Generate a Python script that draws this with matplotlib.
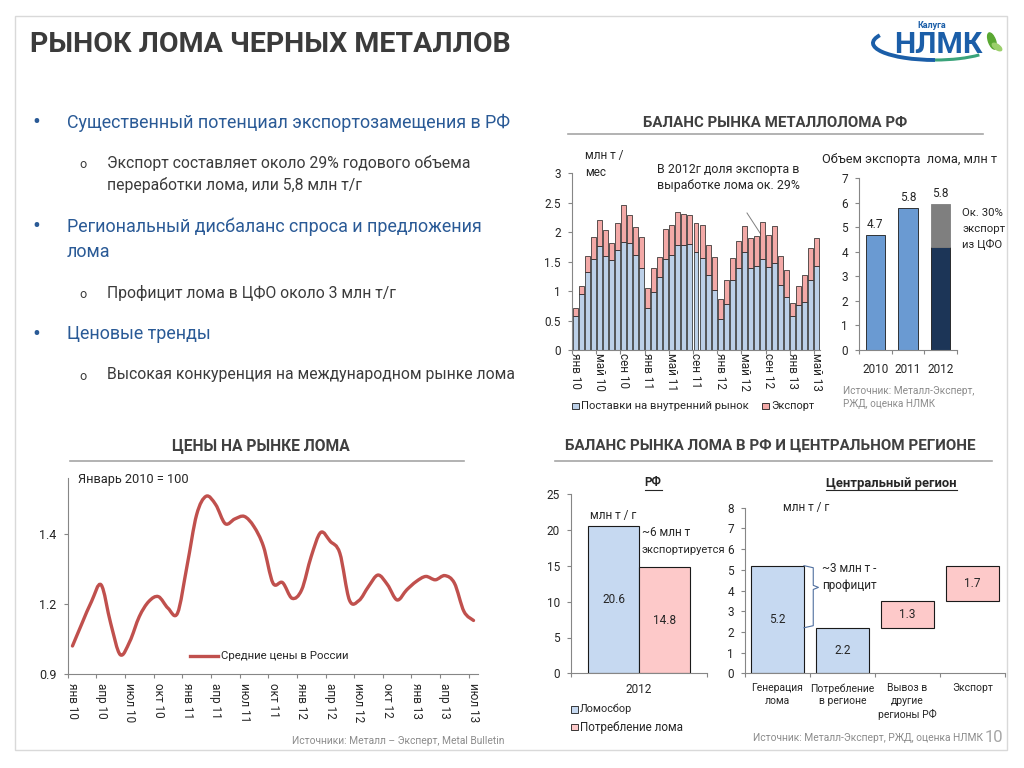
import matplotlib
matplotlib.use('Agg')
import matplotlib.pyplot as plt
from matplotlib.patches import Rectangle, Arc, Ellipse, PathPatch
from matplotlib.path import Path
import numpy as np

# ---------------- DATA ----------------
# Monthly scrap balance (Jan 2010 .. May 2013), mln t / month
month_labels_a = ['янв 10', 'май 10', 'сен 10', 'янв 11', 'май 11', 'сен 11',
                  'янв 12', 'май 12', 'сен 12', 'янв 13', 'май 13']
domestic = [0.58, 0.95, 1.32, 1.55, 1.77, 1.60, 1.52, 1.69, 1.84, 1.81, 1.61, 1.39,
            0.72, 0.98, 1.24, 1.55, 1.62, 1.79, 1.78, 1.80, 1.66, 1.56, 1.28, 1.02,
            0.53, 0.78, 1.18, 1.39, 1.66, 1.39, 1.42, 1.55, 1.41, 1.48, 1.10, 0.90,
            0.57, 0.76, 0.82, 1.19, 1.43]
export = [0.13, 0.14, 0.28, 0.37, 0.43, 0.44, 0.29, 0.47, 0.63, 0.49, 0.48, 0.53,
          0.33, 0.42, 0.34, 0.50, 0.51, 0.55, 0.53, 0.50, 0.50, 0.57, 0.51, 0.56,
          0.34, 0.41, 0.39, 0.46, 0.44, 0.52, 0.52, 0.63, 0.55, 0.62, 0.49, 0.46,
          0.22, 0.33, 0.45, 0.55, 0.47]
series_a = ['Поставки на внутренний рынок', 'Экспорт']

# Annual export, mln t
years = ['2010', '2011', '2012']
export_year = [4.7, 5.8, 5.8]
export_2012_cfo_rest = 4.2     # dark part of 2012 bar
export_2012_cfo = 1.75         # grey part (approx. 30% from Central FD)

# Price index (Jan 2010 = 100), monthly Jan 2010 .. Jul 2013
price_labels = ['янв 10', 'апр 10', 'июл 10', 'окт 10', 'янв 11', 'апр 11', 'июл 11',
                'окт 11', 'янв 12', 'апр 12', 'июл 12', 'окт 12', 'янв 13', 'апр 13',
                'июл 13']
price = [1.001, 1.082, 1.160, 1.219, 1.082, 0.970, 1.017, 1.106, 1.160, 1.177, 1.136,
         1.118, 1.287, 1.469, 1.535, 1.505, 1.437, 1.454, 1.463, 1.427, 1.356, 1.225,
         1.227, 1.171, 1.201, 1.320, 1.406, 1.374, 1.332, 1.165, 1.163, 1.213, 1.254,
         1.219, 1.165, 1.201, 1.231, 1.249, 1.237, 1.252, 1.225, 1.124, 1.092]
price_ticks = [0.9, 1.15, 1.4]
price_tick_labels = ['0.9', '1.2', '1.4']
price_series = 'Средние цены в России'

# RF balance 2012, mln t / year
rf_category = '2012'
rf_series = ['Ломосбор', 'Потребление лома']
rf_values = [20.6, 14.8]

# Central region balance, mln t / year
ce_categories = ['Генерация\nлома', 'Потребление\nв регионе', 'Вывоз в\nдругие\nрегионы РФ', 'Экспорт']
ce_values = [5.2, 2.2, 1.3, 1.7]
ce_bottoms = [0.0, 0.0, 2.2, 3.5]

# ---------------- STYLE ----------------
W, H = 1024, 768
FONT = ['Roboto', 'DejaVu Sans']
plt.rcParams['font.family'] = FONT
TXT = '#262626'
AXC = '#868686'
BLUE_TXT = '#2a5a96'
SRC = '#8c8c8c'

fig = plt.figure(figsize=(W / 100, H / 100), dpi=100)
bg = fig.add_axes([0, 0, 1, 1], zorder=0)
bg.set_xlim(0, W)
bg.set_ylim(H, 0)
bg.axis('off')
R = fig.canvas.get_renderer()


def txt(x, y, s, size, ha='left', va='center', color=TXT, weight='normal', **kw):
    return bg.text(x, y, s, fontsize=size, ha=ha, va=va, color=color,
                   fontweight=weight, **kw)


def fitsize(s, width, weight='normal', size0=10):
    t = bg.text(0, 0, s, fontsize=size0, fontweight=weight)
    w = t.get_window_extent(renderer=R).width
    t.remove()
    return size0 * width / w


def fit(x, y, s, width, ha='left', va='center', color=TXT, weight='normal', **kw):
    return txt(x, y, s, fitsize(s, width, weight), ha, va, color, weight, **kw)


def axpx(x0, y0, x1, y1):
    ax = fig.add_axes([x0 / W, 1 - y1 / H, (x1 - x0) / W, (y1 - y0) / H], zorder=2)
    ax.patch.set_alpha(0)
    for s in ['top', 'right']:
        ax.spines[s].set_visible(False)
    for s in ['left', 'bottom']:
        ax.spines[s].set_color(AXC)
        ax.spines[s].set_linewidth(0.8)
    ax.tick_params(axis='both', which='both', colors=AXC, labelcolor=TXT,
                   labelsize=8.5, direction='out', length=3, width=0.8, pad=5)
    return ax


def cat_axis(ax, n, pos, labels, step=1, rot=0, size=8.5, pad=5, **kw):
    ax.set_xticks(np.arange(-0.5, n, step))
    ax.set_xticklabels([])
    ax.set_xticks(pos, minor=True)
    ax.set_xticklabels(labels, minor=True, rotation=rot, fontsize=size, **kw)
    ax.tick_params(axis='x', which='minor', length=0, pad=pad)
    ax.set_xlim(-0.5, n - 0.5)


def smooth_path(xs, ys, tension=1 / 6):
    """Catmull-Rom style cubic Bezier path through the data points (like Excel's smoothed line)."""
    xs = np.asarray(xs, float)
    ys = np.asarray(ys, float)
    n = len(xs)
    verts = [(xs[0], ys[0])]
    codes = [Path.MOVETO]
    for i in range(n - 1):
        i0 = max(i - 1, 0)
        i3 = min(i + 2, n - 1)
        c1 = (xs[i] + (xs[i + 1] - xs[i0]) * tension, ys[i] + (ys[i + 1] - ys[i0]) * tension)
        c2 = (xs[i + 1] - (xs[i3] - xs[i]) * tension, ys[i + 1] - (ys[i3] - ys[i]) * tension)
        verts += [c1, c2, (xs[i + 1], ys[i + 1])]
        codes += [Path.CURVE4] * 3
    return Path(verts, codes)


# ---------------- SLIDE FRAME / TITLE / LOGO ----------------
bg.add_patch(Rectangle((15, 16), 992, 734, fill=False, edgecolor='#d9d9d9', lw=1))
fit(30, 45, 'РЫНОК ЛОМА ЧЕРНЫХ МЕТАЛЛОВ', 478, color='#3b3b3b', weight='bold')

# logo
bg.add_patch(Arc((935, 43), 124, 34, theta1=90, theta2=188, color='#1b5ea8', lw=2.8))
bg.add_patch(Arc((935, 43), 124, 34, theta1=15, theta2=90, color='#3aa37a', lw=2.2))
fit(938, 45, 'НЛМК', 88, ha='center', color='#1b5ea8', weight='bold')
txt(932, 26, 'Калуга', 6.5, ha='center', color='#1b5ea8', weight='bold')
bg.add_patch(Ellipse((992, 41), 7, 17, angle=-20, color='#5aa832'))
bg.add_patch(Ellipse((997, 47), 5, 11, angle=-55, color='#9bcf6b'))

# ---------------- BULLETS ----------------
bsz = fitsize('Существенный потенциал экспортозамещения в РФ', 445)
ssz = fitsize('Высокая конкуренция на международном рынке лома', 409)
bul = [(122.7, 'Существенный потенциал экспортозамещения в РФ'),
       (226.7, 'Региональный дисбаланс спроса и предложения'),
       (334.3, 'Ценовые тренды')]
for y, s in bul:
    txt(36, y, '•', bsz * 1.3, ha='center', color=BLUE_TXT)
    txt(67, y, s, bsz, color=BLUE_TXT)
txt(67, 251.7, 'лома', bsz, color=BLUE_TXT)
subs = [(163.3, 'Экспорт составляет около 29% годового объема'),
        (293.3, 'Профицит лома в ЦФО около 3 млн т/г'),
        (375.0, 'Высокая конкуренция на международном рынке лома')]
for y, s in subs:
    txt(83, y + 1, 'o', ssz * 0.8, ha='center', color='#3b3b3b')
    txt(107, y, s, ssz, color='#3b3b3b')
txt(107, 185, 'переработки лома, или 5,8 млн т/г', ssz, color='#3b3b3b')

# ---------------- SECTION HEADERS ----------------
fit(775, 123, 'БАЛАНС РЫНКА МЕТАЛЛОЛОМА РФ', 264, ha='center', color='#404040', weight='bold')
bg.plot([568, 983], [134, 134], color='#a6a6a6', lw=1.2)
fit(261, 446, 'ЦЕНЫ НА РЫНКЕ ЛОМА', 178, ha='center', color='#404040', weight='bold')
bg.plot([70, 464], [461, 461], color='#a6a6a6', lw=1.2)
fit(770, 446, 'БАЛАНС РЫНКА ЛОМА В РФ И ЦЕНТРАЛЬНОМ РЕГИОНЕ', 409, ha='center',
    color='#404040', weight='bold')
bg.plot([555, 992], [461, 461], color='#a6a6a6', lw=1.2)

# ---------------- CHART A: monthly stacked bars ----------------
axA = axpx(572, 173.3, 820, 350)
xa = np.arange(len(domestic))
axA.bar(xa, domestic, width=0.82, color='#bcd0e8', edgecolor='#1a1a1a', linewidth=0.5,
        label=series_a[0])
axA.bar(xa, export, bottom=domestic, width=0.82, color='#f3a9a7', edgecolor='#1a1a1a',
        linewidth=0.5, label=series_a[1])
axA.set_ylim(0, 3)
axA.set_yticks(np.arange(0, 3.01, 0.5))
axA.set_yticklabels(['0', '0.5', '1', '1.5', '2', '2.5', '3'])
cat_axis(axA, len(domestic), np.arange(0, len(domestic), 4), month_labels_a, step=4,
         rot=270, pad=2, va='top', ha='center')
txt(585, 155, 'млн т /', 8.5)
txt(585, 172, 'мес', 8.5)
fit(657, 169, 'В 2012г доля экспорта в', 143)
fit(657, 186, 'выработке лома ок. 29%', 143)
bg.plot([747, 762], [213, 236], color='#7f7f7f', lw=0.7, zorder=5)
# legend A
bg.add_patch(Rectangle((572, 402.5), 6.5, 6.5, facecolor='#bcd0e8', edgecolor='#1a1a1a', lw=0.6))
fit(581, 406, series_a[0], 169)
bg.add_patch(Rectangle((762, 402.5), 6.5, 6.5, facecolor='#f3a9a7', edgecolor='#1a1a1a', lw=0.6))
fit(771, 406, series_a[1], 43)

# ---------------- CHART B: annual export ----------------
axB = axpx(859, 178.3, 957, 350)
xb = np.arange(len(years))
axB.bar(xb[:2], export_year[:2], width=0.6, color='#6a9ad2', edgecolor='#1a1a1a', linewidth=0.6)
axB.bar(xb[2], export_2012_cfo_rest, width=0.6, color='#1c3557', edgecolor='#1a1a1a', linewidth=0.6)
axB.bar(xb[2], export_2012_cfo, bottom=export_2012_cfo_rest, width=0.6, color='#7f7f7f',
        edgecolor='#7f7f7f', linewidth=0.6)
tops = [export_year[0], export_year[1], export_2012_cfo_rest + export_2012_cfo]
for i, (tp, v) in enumerate(zip(tops, export_year)):
    axB.text(i, tp + 0.15, f'{v}', ha='center', va='bottom', fontsize=8.5, color=TXT)
axB.set_ylim(0, 7)
axB.set_yticks(range(0, 8))
cat_axis(axB, len(years), xb, years, pad=9)
fit(910, 159, 'Объем экспорта  лома, млн т', 175, ha='center')
for y, s in [(213, 'Ок. 30%'), (229, 'экспорт'), (244, 'из ЦФО')]:
    txt(962, y, s, 8.2)
fit(843, 391, 'Источник: Металл-Эксперт,', 132, color=SRC)
fit(843, 404, 'РЖД, оценка НЛМК', 92, color=SRC)

# ---------------- CHART C: price line ----------------
axC = axpx(67.7, 478, 478.3, 674.3)
axC.add_patch(PathPatch(smooth_path(np.arange(len(price)), price), fill=False,
                        edgecolor='#c0504d', lw=2.4, joinstyle='round', capstyle='round'))
axC.set_ylim(0.9, 1.6)
axC.set_yticks(price_ticks)
axC.set_yticklabels(price_tick_labels, fontsize=9)
cat_axis(axC, len(price), np.arange(0, len(price), 3), price_labels, step=3,
         rot=270, pad=6, va='top', ha='center')
fit(78, 479, 'Январь 2010 = 100', 110)
bg.plot([190, 218], [656, 656], color='#c0504d', lw=2.4)
fit(221, 656, price_series, 128)
fit(505, 741, 'Источники: Металл – Эксперт, Metal Bulletin', 212, ha='right', color=SRC)

# ---------------- CHART D: RF ----------------
axD = axpx(571, 494.3, 707, 673.3)
offs = [-0.1875, 0.1875]
cols = ['#c6d9f1', '#fdc9c9']
for o, v, c, lab in zip(offs, rf_values, cols, rf_series):
    axD.bar(o, v, width=0.375, color=c, edgecolor='#1a1a1a', linewidth=0.8, label=lab)
    axD.text(o, v / 2, f'{v}', ha='center', va='center', fontsize=8.5, color=TXT)
axD.set_ylim(0, 25)
axD.set_yticks(range(0, 26, 5))
cat_axis(axD, 1, [0], [rf_category], pad=7)
fit(653, 483, 'РФ', 17, ha='center', weight='bold')
bg.plot([645, 662], [490, 490], color=TXT, lw=0.8)
txt(590, 515, 'млн т / г', 8.5)
txt(642, 533, '~6 млн т', 8.5)
fit(642, 550, 'экспортируется', 84)
bg.add_patch(Rectangle((571, 706), 6.5, 6.5, facecolor=cols[0], edgecolor='#1a1a1a', lw=0.6))
fit(580, 709, rf_series[0], 52)
bg.add_patch(Rectangle((571, 723.5), 6.5, 6.5, facecolor=cols[1], edgecolor='#1a1a1a', lw=0.6))
fit(580, 727, rf_series[1], 103)

# ---------------- CHART E: Central region ----------------
axE = axpx(745, 507.7, 1005, 673.3)
xe = np.arange(len(ce_values))
ce_cols = ['#c6d9f1', '#c6d9f1', '#fdc9c9', '#fdc9c9']
axE.bar(xe, ce_values, bottom=ce_bottoms, width=0.815, color=ce_cols,
        edgecolor='#1a1a1a', linewidth=0.8)
for i, (v, b) in enumerate(zip(ce_values, ce_bottoms)):
    axE.text(i, b + v / 2, f'{v}', ha='center', va='center', fontsize=8.5, color=TXT)
axE.set_ylim(0, 8)
axE.set_yticks(range(0, 9))
cat_axis(axE, len(ce_values), xe, ce_categories, size=7.5, pad=7, va='top',
         ha='center', linespacing=1.35)
# brace for surplus (between generation and consumption levels)
bx0 = 0.4075
bx1, bx2 = 0.55, 0.63
ytop, ybot = ce_values[0], ce_values[1]
ymid = (ytop + ybot) / 2 + 0.45
axE.plot([bx0, bx1, bx1, bx2, bx1, bx1, bx0],
         [ytop, ytop - 0.1, ymid + 0.1, ymid, ymid - 0.1, ybot + 0.1, ybot],
         color='#4f6f9f', lw=0.8, clip_on=False)
fit(891, 483, 'Центральный регион', 131, ha='center', weight='bold')
bg.plot([826, 957], [490, 490], color=TXT, lw=0.8)
txt(783, 508, 'млн т / г', 8.5)
txt(822, 569, '~3 млн т -', 8.5)
txt(822, 585, 'профицит', 8.5)
fit(983, 738, 'Источник: Металл-Эксперт, РЖД, оценка НЛМК', 230, ha='right', color=SRC)
txt(985, 738, '10', 12, color='#a6a6a6')

fig.savefig('out.png', dpi=100)
